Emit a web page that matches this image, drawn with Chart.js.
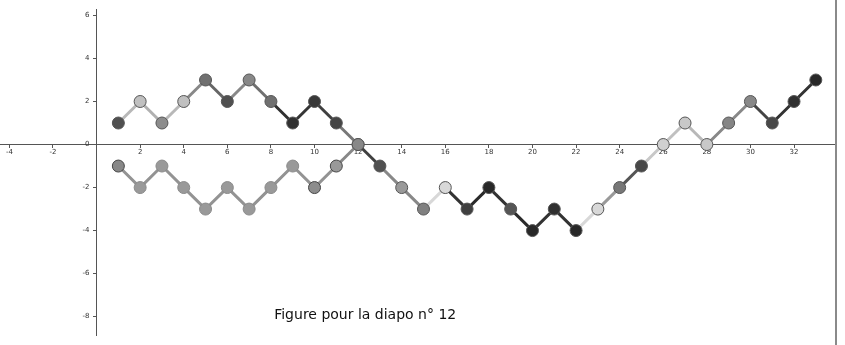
<!DOCTYPE html>
<html>
<head>
<meta charset="utf-8">
<script src="https://cdn.jsdelivr.net/npm/chart.js@4.4.0/dist/chart.umd.min.js"></script>
<style>
  body { margin: 0; background: #fff; }
  #wrap { width: 845px; height: 345px; }
</style>
</head>
<body>
<div id="wrap"><canvas id="graphe" width="845" height="345"></canvas></div>
<script>
// marche aléatoire + chemin réfléchi
const etapes = [1,2,3,4,5,6,7,8,9,10,11,12,13,14,15,16,17,18,19,20,21,22,23,24,25,26,27,28,29,30,31,32,33];
const cheminHaut = [1,2,1,2,3,2,3,2,1,2,1,0,-1,-2,-3,-2,-3,-2,-3,-4,-3,-4,-3,-2,-1,0,1,0,1,2,1,2,3];
const etapesBas = [1,2,3,4,5,6,7,8,9,10,11,12];
const cheminBas = [-1,-2,-1,-2,-3,-2,-3,-2,-1,-2,-1,0];

const ticksX = [-4,-2,2,4,6,8,10,12,14,16,18,20,22,24,26,28,30,32];
const ticksY = [-8,-6,-4,-2,0,2,4,6];

// teintes de gris des points et des segments
const couleursPointsHaut = ['#505050','#c0c0c0','#8c8c8c','#c0c0c0','#707070','#505050','#888888','#707070','#303030','#383838','#454545','#888888','#505050','#999999','#808080','#d8d8d8','#404040','#282828','#555555','#282828','#303030','#282828','#d8d8d8','#777777','#484848','#d0d0d0','#c8c8c8','#c8c8c8','#858585','#888888','#484848','#303030','#282828'];
const couleursSegmentsHaut = ['#b8b8b8','#b0b0b0','#b8b8b8','#888888','#666666','#888888','#707070','#303030','#353535','#404040','#777777','#404040','#888888','#888888','#d8d8d8','#333333','#2a2a2a','#333333','#2a2a2a','#333333','#333333','#d8d8d8','#999999','#555555','#c8c8c8','#c0c0c0','#b8b8b8','#888888','#888888','#444444','#333333','#333333'];
const couleursPointsBas = ['#888888','#999999','#999999','#999999','#999999','#999999','#999999','#999999','#999999','#8c8c8c','#999999','#888888'];
const bordsPointsBas = ['#444444','#8a8a8a','#8a8a8a','#8a8a8a','#8a8a8a','#8a8a8a','#8a8a8a','#8a8a8a','#8a8a8a','#444444','#444444','#555555'];

const texteFigure = 'Figure pour la diapo n° 12';

const cadre = {
    id: 'cadre',
    afterDraw(chart) {
        const ctx = chart.ctx;
        const a = chart.chartArea;
        ctx.save();
        ctx.strokeStyle = '#8a8a8a';
        ctx.lineWidth = 2;
        ctx.beginPath();
        ctx.moveTo(a.right + 1, 0);
        ctx.lineTo(a.right + 1, chart.height);
        ctx.stroke();
        // texte de la figure, placé en coordonnées du repère
        const px = chart.scales.x.getPixelForValue(8.15);
        const py = chart.scales.y.getPixelForValue(-7.95);
        ctx.fillStyle = '#111';
        ctx.font = '14px "DejaVu Sans"';
        ctx.textBaseline = 'middle';
        ctx.fillText(texteFigure, px, py);
        ctx.restore();
    }
};

const toPts = (xs, ys) => xs.map((x, i) => ({ x: x, y: ys[i] }));

new Chart(document.getElementById('graphe'), {
    type: 'scatter',
    data: {
        datasets: [
            {
                data: toPts(etapesBas, cheminBas),
                showLine: true,
                borderColor: '#939393',
                borderWidth: 3,
                pointRadius: 6,
                pointBorderWidth: 1,
                pointBackgroundColor: couleursPointsBas,
                pointBorderColor: bordsPointsBas,
                segment: {
                    borderColor: c => c.p0DataIndex === 10 ? '#888888' : '#939393'
                }
            },
            {
                data: toPts(etapes, cheminHaut),
                showLine: true,
                borderColor: '#666',
                borderWidth: 3,
                pointRadius: 6,
                pointBorderWidth: 1,
                pointBackgroundColor: couleursPointsHaut,
                pointBorderColor: '#555',
                segment: {
                    borderColor: c => couleursSegmentsHaut[c.p0DataIndex]
                }
            }
        ]
    },
    options: {
        responsive: false,
        animation: false,
        layout: { autoPadding: false, padding: { left: 0, right: 10, top: 0, bottom: 0 } },
        plugins: {
            legend: { display: false },
            tooltip: { enabled: false }
        },
        scales: {
            x: {
                type: 'linear',
                position: { y: 0 },
                min: -4.43,
                max: 33.88,
                afterBuildTicks: s => { s.ticks = ticksX.map(v => ({ value: v })); },
                grid: { drawOnChartArea: false, drawTicks: true, tickLength: 3, color: '#555' },
                border: { display: true, color: '#555', width: 1 },
                ticks: {
                    font: { size: 7, family: 'DejaVu Sans' },
                    color: '#333',
                    padding: 0,
                    maxRotation: 0,
                    autoSkip: false
                }
            },
            y: {
                type: 'linear',
                position: { x: 0 },
                min: -8.89,
                max: 6.29,
                afterBuildTicks: s => { s.ticks = ticksY.map(v => ({ value: v })); },
                grid: { drawOnChartArea: false, drawTicks: true, tickLength: 3, color: '#555' },
                border: { display: true, color: '#555', width: 1 },
                ticks: {
                    font: { size: 7, family: 'DejaVu Sans' },
                    color: '#333',
                    padding: 5,
                    autoSkip: false,
                    callback: v => v + '\u2002\u2002'
                }
            }
        }
    },
    plugins: [cadre]
});
</script>
</body>
</html>
